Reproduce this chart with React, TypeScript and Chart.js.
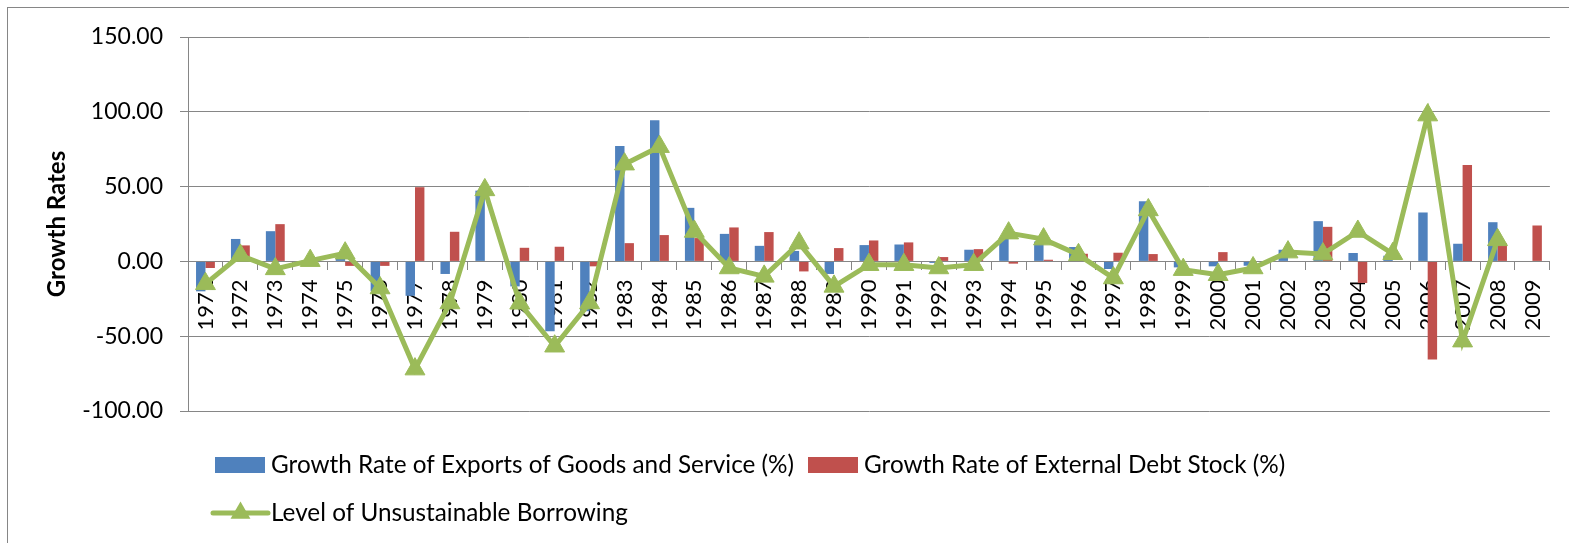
import React, { useEffect, useRef } from 'react';
import { Chart, registerables } from 'chart.js';

Chart.register(...registerables);

const years = ['1971','1972','1973','1974','1975','1976','1977','1978','1979','1980','1981','1982','1983','1984','1985','1986','1987','1988','1989','1990','1991','1992','1993','1994','1995','1996','1997','1998','1999','2000','2001','2002','2003','2004','2005','2006','2007','2008','2009'];

const exportsGrowth = [-20, 15, 20.2, 0.5, 2, -20, -23, -8.4, 47.3, -16.7, -46.7, -33.3, 77.1, 94.4, 35.8, 18.4, 10.4, 7, -8.4, 10.9, 11.3, -1, 7.8, 16.2, 13.3, 9.6, -5.1, 40.2, -4, -3.3, -2.9, 7.8, 26.9, 5.6, 3.8, 32.7, 11.8, 26.2, 0];

const debtGrowth = [-4.4, 10.7, 24.9, 0, -3, -3, 49.6, 19.8, 0, 9.1, 9.8, -3.3, 12.2, 17.6, 15.6, 22.7, 19.6, -6.7, 8.9, 14, 12.7, 2.9, 8.2, -1.5, 1.1, 5.1, 5.8, 4.9, 0, 6.2, 0, 0, 23.1, -14.4, 0, -65.6, 64.4, 12.2, 24];

const borrowing = [-15, 4, -5, 0.5, 5.5, -17.8, -72, -27.8, 47.8, -28, -56.7, -27.8, 65, 76.7, 20, -4.4, -10, 12.2, -16.7, -2.2, -2.2, -4.4, -2.2, 18.9, 14.9, 4.4, -11.1, 34.4, -5.5, -8.9, -4.4, 6.2, 4.9, 20, 5.1, 97.8, -53.3, 14.4, null];

const seriesLabels = [
  'Growth Rate of Exports of Goods and Service (%)',
  'Growth Rate of External Debt Stock (%)',
  'Level of Unsustainable Borrowing',
];

const yMin = -100;
const yMax = 150;
const yStep = 50;

const BLUE = '#4F81BD';
const RED = '#C0504D';
const GREEN = '#9BBB59';
const GRID = '#868686';

const legendPlugin = {
  id: 'excelLegend',
  afterDraw(chart: any) {
    const { ctx } = chart;
    const ds = chart.data.datasets;
    ctx.save();
    ctx.font = '24.3px Lato';
    ctx.textBaseline = 'middle';
    ctx.textAlign = 'left';
    const rows = [
      { i: 0, x: 215, y: 465 },
      { i: 1, x: 808, y: 465 },
      { i: 2, x: 213, y: 513 },
    ];
    rows.forEach(({ i, x, y }) => {
      const d = ds[i];
      if (d.type === 'line') {
        ctx.strokeStyle = d.borderColor;
        ctx.lineWidth = 5;
        ctx.lineCap = 'round';
        ctx.beginPath();
        ctx.moveTo(x, y);
        ctx.lineTo(x + 55, y);
        ctx.stroke();
        const cx = x + 27.5;
        const r = 11.5;
        ctx.fillStyle = d.pointBackgroundColor;
        ctx.beginPath();
        ctx.moveTo(cx, y - r);
        ctx.lineTo(cx + r * 0.866, y + r * 0.5);
        ctx.lineTo(cx - r * 0.866, y + r * 0.5);
        ctx.closePath();
        ctx.fill();
        ctx.fillStyle = '#000';
        ctx.fillText(d.label, x + 58, y);
      } else {
        ctx.fillStyle = d.backgroundColor;
        ctx.fillRect(x, y - 8, 50, 16);
        ctx.fillStyle = '#000';
        ctx.fillText(d.label, x + 56, y);
      }
    });
    ctx.restore();
  },
};

export default function App() {
  const ref = useRef<HTMLCanvasElement | null>(null);

  useEffect(() => {
    document.body.style.margin = '0';
    const canvas = ref.current;
    if (!canvas) return;
    const chart = new Chart(canvas, {
      type: 'bar',
      data: {
        labels: years,
        datasets: [
          {
            type: 'bar',
            label: seriesLabels[0],
            data: exportsGrowth,
            backgroundColor: BLUE,
            borderWidth: 0,
            order: 2,
            categoryPercentage: 0.54,
            barPercentage: 1,
          } as any,
          {
            type: 'bar',
            label: seriesLabels[1],
            data: debtGrowth,
            backgroundColor: RED,
            borderWidth: 0,
            order: 2,
            categoryPercentage: 0.54,
            barPercentage: 1,
          } as any,
          {
            type: 'line',
            label: seriesLabels[2],
            data: borrowing,
            borderColor: GREEN,
            backgroundColor: GREEN,
            borderWidth: 5,
            pointStyle: 'triangle',
            pointRadius: 11.5,
            pointBackgroundColor: GREEN,
            pointBorderColor: GREEN,
            pointBorderWidth: 1,
            tension: 0,
            spanGaps: false,
            order: 0,
          } as any,
        ],
      },
      options: {
        responsive: false,
        animation: false,
        layout: { padding: { top: 37, right: 9, bottom: 132, left: 0 } },
        plugins: {
          legend: { display: false },
          tooltip: { enabled: false },
        },
        scales: {
          x: {
            type: 'category',
            position: { y: 0 } as any,
            offset: true,
            z: 1,
            grid: {
              display: true,
              drawOnChartArea: false,
              drawTicks: true,
              tickLength: 8,
              offset: true,
              color: GRID,
            },
            border: { display: true, color: GRID, width: 1 },
            ticks: {
              autoSkip: false,
              minRotation: 90,
              maxRotation: 90,
              padding: 10,
              color: '#000',
              font: { family: 'Lato', size: 22 },
            },
          },
          y: {
            type: 'linear',
            min: yMin,
            max: yMax,
            afterFit: (scale: any) => {
              scale.width = 188;
            },
            grid: {
              color: GRID,
              lineWidth: 1,
              drawTicks: true,
              tickLength: 8,
            },
            border: { display: true, color: GRID, width: 1 },
            ticks: {
              stepSize: yStep,
              padding: 17,
              color: '#000',
              font: { family: 'Lato', size: 23 },
              callback: (v: any) => Number(v).toFixed(2),
            },
            title: {
              display: true,
              text: 'Growth Rates',
              color: '#000',
              font: { family: 'Lato', size: 24, weight: 'bold' },
              padding: { top: 43, bottom: 0 },
            },
          },
        },
      },
      plugins: [legendPlugin],
    });
    return () => chart.destroy();
  }, []);

  return (
    <div style={{ position: 'relative', width: 1569, height: 543, overflow: 'hidden', background: '#fff' }}>
      <div
        style={{
          position: 'absolute',
          left: 7,
          top: 7,
          width: 1700,
          height: 700,
          border: '1px solid #868686',
          boxSizing: 'border-box',
        }}
      />
      <canvas ref={ref} width={1569} height={543} style={{ position: 'absolute', left: 0, top: 0, width: 1569, height: 543 }} />
    </div>
  );
}
